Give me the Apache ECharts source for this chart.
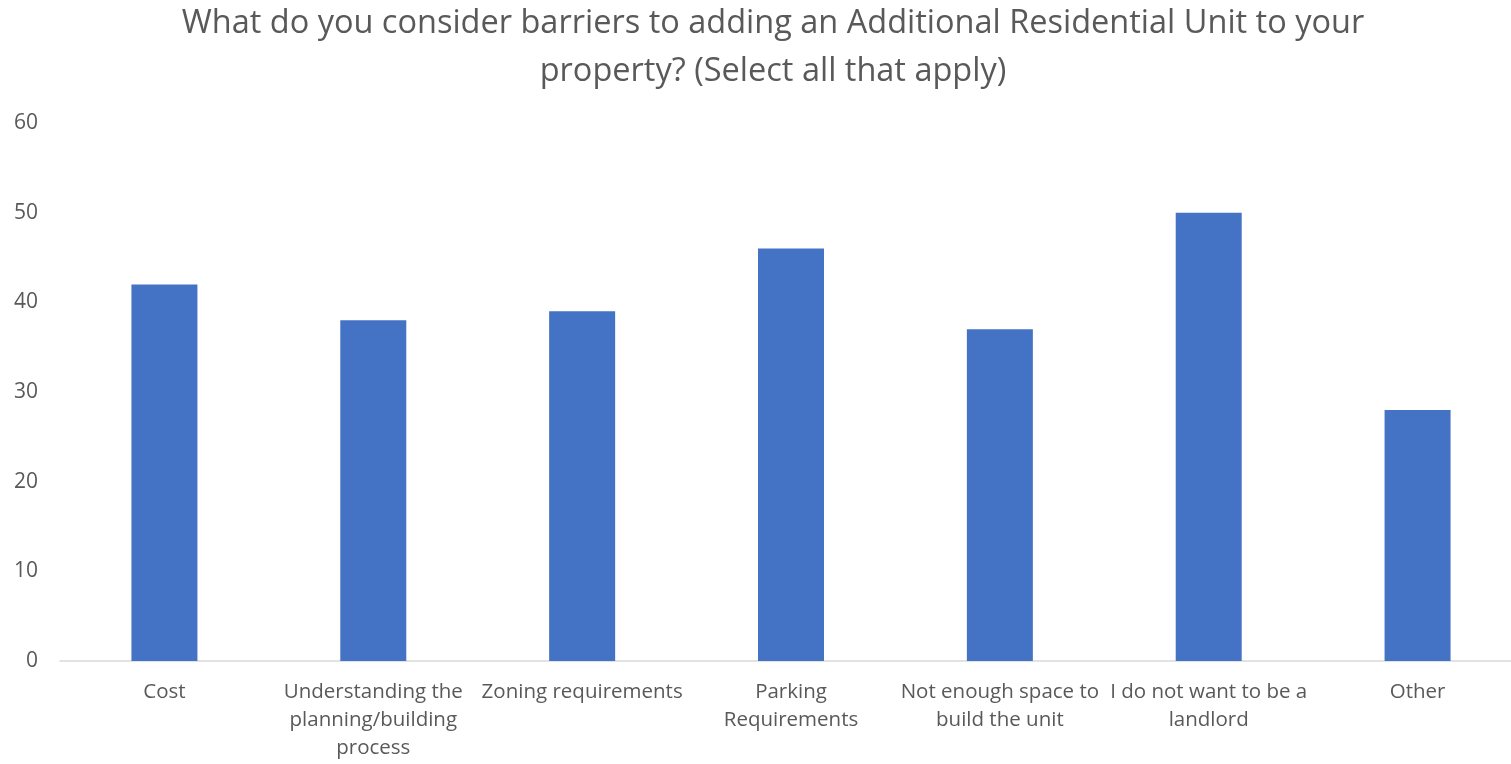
<!DOCTYPE html>
<html>
<head>
<meta charset="utf-8">
<script src="https://cdn.jsdelivr.net/npm/echarts@6/dist/echarts.min.js"></script>
<style>html,body{margin:0;padding:0;background:#fff;overflow:hidden;width:1511px;height:764px;}#c{width:1530px;height:764px;}</style>
</head>
<body>
<div id="c"></div>
<script>
const titleLines = ["What do you consider barriers to adding an Additional Residential Unit to your", "property? (Select all that apply)"];
const categories = ["Cost", "Understanding the\nplanning/building\nprocess", "Zoning requirements", "Parking\nRequirements", "Not enough space to\nbuild the unit", "I do not want to be a\nlandlord", "Other"];
const values = [42, 38, 39, 46, 37, 50, 28];
const yTicks = {min: 0, max: 60, interval: 10};

const FONT = '"Open Sans", "Liberation Sans", sans-serif';
const chart = echarts.init(document.getElementById('c'));
chart.setOption({
  animation: false,
  backgroundColor: '#fff',
  graphic: [{
    type: 'text', x: 773, y: 0,
    style: { text: titleLines.join('\n'), textAlign: 'center', fill: '#595959', font: '32.5px ' + FONT, lineHeight: 48 }
  }],
  grid: { left: 60, top: 123, right: 8, height: 538, containLabel: false },
  xAxis: {
    type: 'category', data: categories,
    axisLine: { lineStyle: { color: '#d9d9d9', width: 1.5 } },
    axisTick: { show: false },
    axisLabel: { interval: 0, color: '#595959', fontSize: 20.5, fontFamily: FONT, lineHeight: 28, margin: 17 }
  },
  yAxis: {
    type: 'value', min: yTicks.min, max: yTicks.max, interval: yTicks.interval,
    splitLine: { show: false }, axisLine: { show: false }, axisTick: { show: false },
    axisLabel: { color: '#595959', fontSize: 21, fontFamily: FONT, margin: 22 }
  },
  series: [{ type: 'bar', data: values, barWidth: 66, itemStyle: { color: '#4472C4' } }]
});
</script>
</body>
</html>
